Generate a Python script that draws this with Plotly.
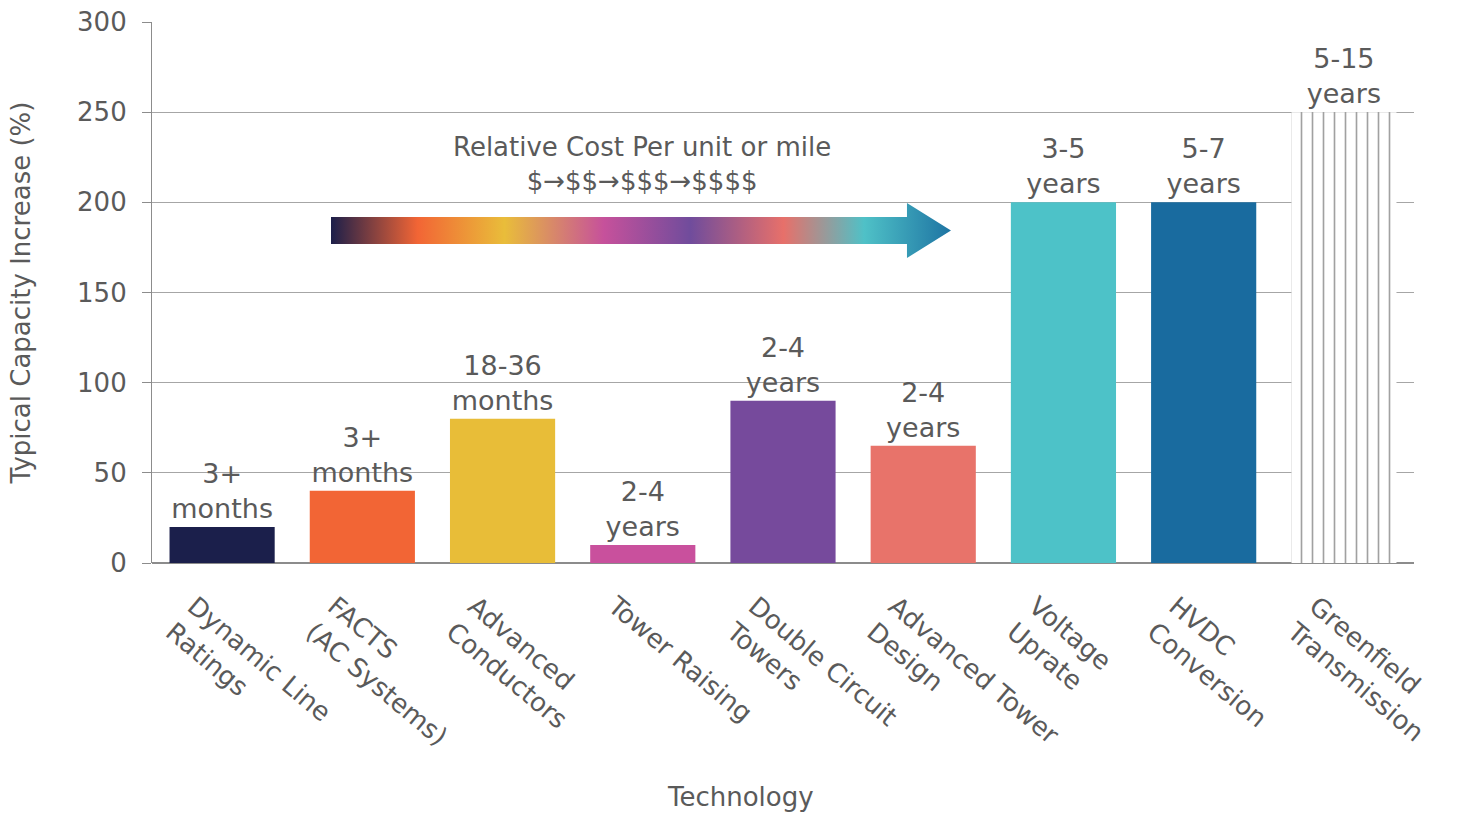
import base64
import plotly.graph_objects as go

categories = [
    "Dynamic Line<br>Ratings", "FACTS<br>(AC Systems)", "Advanced<br>Conductors",
    "Tower Raising", "Double Circuit<br>Towers", "Advanced Tower<br>Design",
    "Voltage<br>Uprate", "HVDC<br>Conversion", "Greenfield<br>Transmission",
]
capacity_increase = [20, 40, 80, 10, 90, 65, 200, 200, 250]
lead_times = [
    "3+<br>months", "3+<br>months", "18-36<br>months", "2-4<br>years", "2-4<br>years",
    "2-4<br>years", "3-5<br>years", "5-7<br>years", "5-15<br>years",
]
bar_colors = ["#1b1f4b", "#f26535", "#e8bd38", "#c9509d", "#764a9c",
              "#e8736a", "#4dc2c8", "#196b9f", "white"]
y_ticks = [0, 50, 100, 150, 200, 250, 300]

gradient_stops = [
    (0.00, "#1c1f4a"), (0.14, "#f26535"), (0.28, "#e9bd3a"), (0.44, "#c6519b"),
    (0.58, "#704c9c"), (0.73, "#e7706a"), (0.86, "#4fc1c7"), (1.00, "#1e74a3"),
]

FONT = "DejaVu Sans"
GREY = "#5a5a5a"
FS = 26

# gradient arrow as an inline SVG image
stops_svg = "".join(
    f'<stop offset="{o*100:.0f}%" stop-color="{c}"/>' for o, c in gradient_stops
)
svg = (
    '<svg xmlns="http://www.w3.org/2000/svg" width="620" height="55" viewBox="0 0 620 55">'
    f'<defs><linearGradient id="g" x1="0" y1="0" x2="1" y2="0">{stops_svg}</linearGradient></defs>'
    '<polygon points="0,14 576,14 576,0 620,27.5 576,55 576,41 0,41" fill="url(#g)"/>'
    '</svg>'
)
svg_uri = "data:image/svg+xml;base64," + base64.b64encode(svg.encode()).decode()

pattern_shapes = ["" for _ in categories]
pattern_shapes[-1] = "|"

fig = go.Figure()
fig.add_trace(go.Bar(
    x=categories,
    y=capacity_increase,
    text=lead_times,
    textposition="outside",
    textfont=dict(family=FONT, size=27, color=GREY),
    constraintext="none",
    cliponaxis=False,
    marker=dict(
        color=bar_colors,
        line=dict(width=0),
        pattern=dict(shape=pattern_shapes, fgcolor="#d2d2d2", bgcolor="white",
                     size=11, solidity=0.15),
    ),
    hoverinfo="x+y",
))

fig.add_layout_image(dict(
    source=svg_uri, xref="paper", yref="paper",
    x=0.1418, y=0.6654, sizex=0.4913, sizey=0.1016,
    xanchor="left", yanchor="top", sizing="stretch", layer="above",
))

fig.add_annotation(
    text="Relative Cost Per unit or mile<br>$→$$→$$$→$$$$",
    xref="paper", yref="paper", x=0.388, y=0.675, yanchor="bottom",
    showarrow=False, font=dict(family=FONT, size=FS, color=GREY),
)

# x-axis title placed as annotation (it sits left of the plot centre)
fig.add_annotation(
    text="Technology",
    xref="paper", yref="paper", x=0.466, y=-0.432, yanchor="middle",
    showarrow=False, font=dict(family=FONT, size=FS, color=GREY),
)

fig.update_layout(
    width=1469, height=818,
    margin=dict(l=152, r=55, t=22, b=255),
    plot_bgcolor="white", paper_bgcolor="white",
    font=dict(family=FONT, size=FS, color=GREY),
    bargap=0.25,
    showlegend=False,
    xaxis=dict(
        automargin=False,
        tickangle=40,
        tickfont=dict(family=FONT, size=FS, color=GREY),
        ticklabelstandoff=22, ticklabelshift=-28,
        showline=False, ticks="",
    ),
    yaxis=dict(
        automargin=False,
        range=[0, 300], tickvals=y_ticks,
        showgrid=True, gridcolor="#a6a6a6", gridwidth=1.2,
        showline=True, linecolor="#8c8c8c", linewidth=1.2,
        ticks="outside", ticklen=9, tickcolor="#8c8c8c",
        ticklabelstandoff=10,
        zeroline=True, zerolinecolor="#8c8c8c",
        tickfont=dict(family=FONT, size=FS, color=GREY),
        title=dict(text="Typical Capacity Increase (%)",
                   font=dict(family=FONT, size=FS, color=GREY), standoff=38),
    ),
)

fig.write_html("out.html")
